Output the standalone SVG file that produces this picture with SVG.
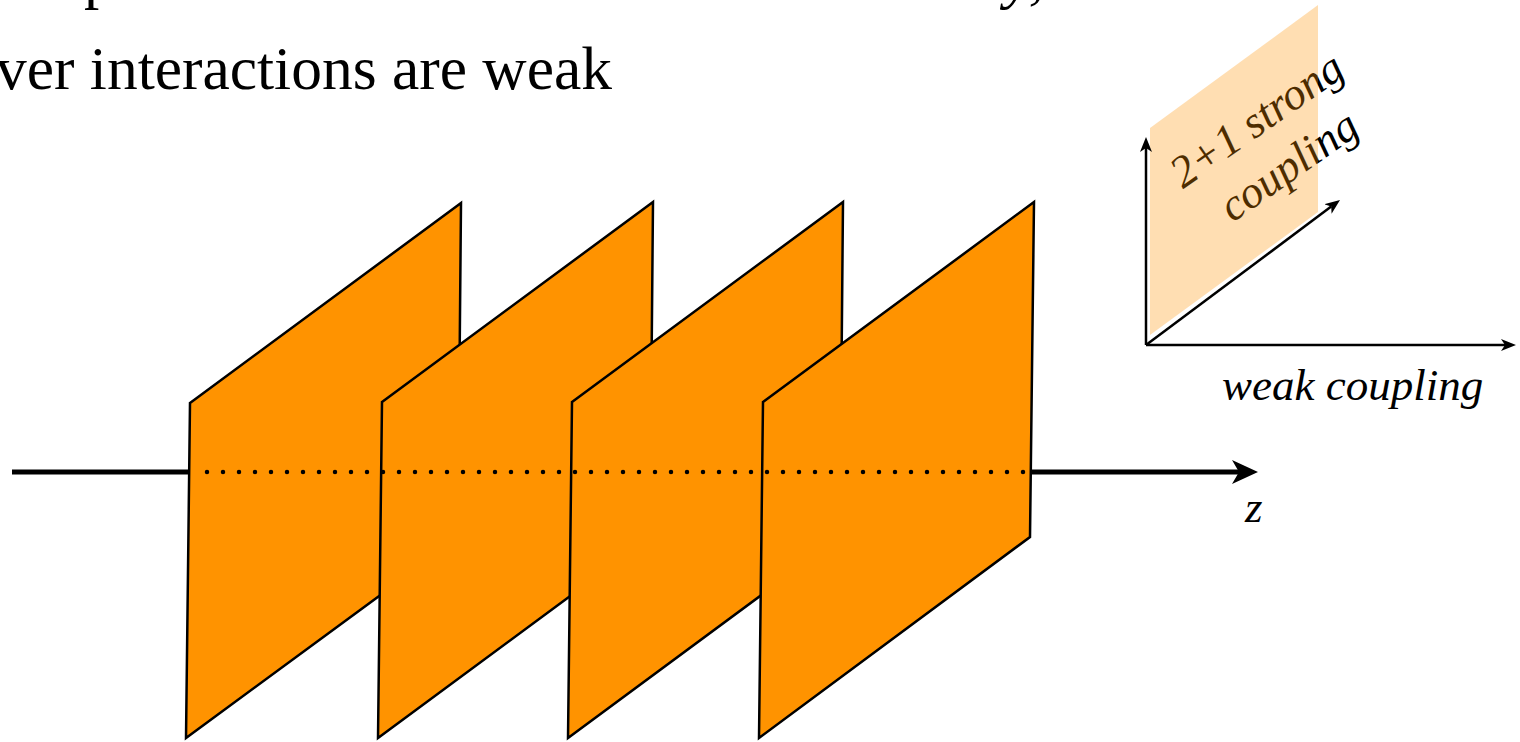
<svg xmlns="http://www.w3.org/2000/svg" width="1520" height="742" viewBox="0 0 1520 742">
<style>
.plane{fill:#FF9300;stroke:#000;stroke-width:2.5;stroke-linejoin:miter}
.axis{stroke:#000;stroke-width:5;fill:none}
.dots{stroke:#000;stroke-width:4.5;stroke-dasharray:0 16;stroke-linecap:round;fill:none}
.small{stroke:#000;stroke-width:2.5;fill:none}
.title{font-family:"Liberation Serif",serif;font-size:61px;fill:#000}
.ital{font-family:"Liberation Serif",serif;font-style:italic;font-size:45px;fill:#000}
</style>
<defs>
<marker id="bigHead" viewBox="0 0 26 24" refX="7" refY="12" markerWidth="26" markerHeight="24" markerUnits="userSpaceOnUse" orient="auto">
<path d="M0,0 L26,12 L0,24 L7,12 Z" fill="#000"/>
</marker>
<marker id="smallHead" viewBox="0 0 15 12" refX="4" refY="6" markerWidth="15" markerHeight="12" markerUnits="userSpaceOnUse" orient="auto">
<path d="M0,0 L15,6 L0,12 L4,6 Z" fill="#000"/>
</marker>
</defs>
<rect width="1520" height="742" fill="#fff"/>
<g id="heading">
<text class="title" x="84" y="-3">p</text>
<text class="title" x="1005" y="-3" font-style="italic">y,</text>
<text class="title" x="-4" y="89" textLength="616" lengthAdjust="spacingAndGlyphs">ver interactions are weak</text>
</g>
<g id="connectors">
<line class="axis" x1="12" y1="472" x2="1239" y2="472" marker-end="url(#bigHead)"/>
</g>
<g id="layer1"><polygon class="plane" points="190,403 461,203 458,538 186,738"/></g>
<g id="layer2"><polygon class="plane" points="382,402 653,202 650,537 378,738"/></g>
<g id="layer3"><polygon class="plane" points="572,402 843,202 840,537 568,738"/></g>
<g id="layer4"><polygon class="plane" points="763,402 1034,202 1030,537 759,738"/></g>
<g id="dotted-axis">
<line class="dots" x1="207" y1="472" x2="1024" y2="472"/>
</g>
<text id="z-label" class="ital" x="1245" y="522">z</text>
<g id="coupling-axes">
<g transform="translate(1265,132) rotate(-35)">
<text class="ital" x="0" y="0" text-anchor="middle" font-size="49">2+1 strong</text>
<text class="ital" x="0" y="56" text-anchor="middle" font-size="49">coupling</text>
</g>
<polygon points="1150,128 1318,5 1318,212 1150,335" fill="#FF9300" fill-opacity="0.3"/>
<line class="small" x1="1146" y1="345" x2="1146" y2="148" marker-end="url(#smallHead)"/>
<line class="small" x1="1146" y1="345" x2="1505" y2="345" marker-end="url(#smallHead)"/>
<line class="small" x1="1146" y1="345" x2="1331.2" y2="206.6" marker-end="url(#smallHead)"/>
<text class="ital" x="1222" y="400" font-size="46">weak coupling</text>
</g>
</svg>
